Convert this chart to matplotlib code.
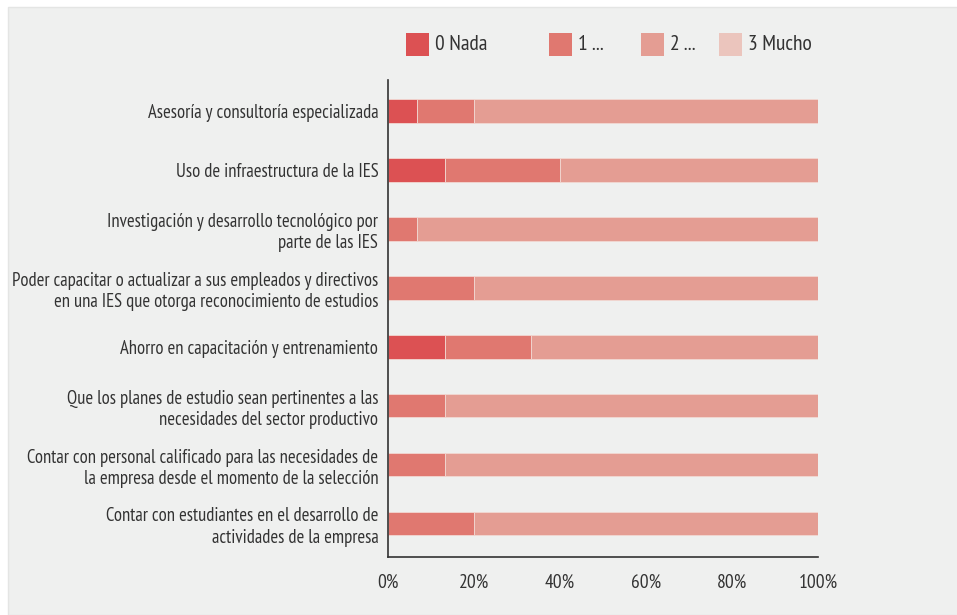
import matplotlib.pyplot as plt
from matplotlib.patches import Rectangle
from matplotlib import font_manager
import numpy as np

names = {f.name for f in font_manager.fontManager.ttflist}
fam = next((n for n in ['PT Sans Narrow', 'Roboto Condensed', 'Fira Sans Condensed',
                        'IBM Plex Sans Condensed', 'Open Sans Condensed'] if n in names),
           'DejaVu Sans')
plt.rcParams['font.family'] = [fam, 'DejaVu Sans']

categories = [
    'Asesoría y consultoría especializada',
    'Uso de infraestructura de la IES',
    'Investigación y desarrollo tecnológico por\nparte de las IES',
    'Poder capacitar o actualizar a sus empleados y directivos\nen una IES que otorga reconocimiento de estudios',
    'Ahorro en capacitación y entrenamiento',
    'Que los planes de estudio sean pertinentes a las\nnecesidades del sector productivo',
    'Contar con personal calificado para las necesidades de\nla empresa desde el momento de la selección',
    'Contar con estudiantes en el desarrollo de\nactividades de la empresa',
]
series = ['0 Nada', '1 ...', '2 ...', '3 Mucho']
nada = [6.7, 13.3, 0, 0, 13.3, 0, 0, 0]
uno = [13.3, 26.7, 6.7, 20.0, 20.0, 13.3, 13.3, 20.0]
dos = [80.0, 60.0, 93.3, 80.0, 66.7, 86.7, 86.7, 80.0]
mucho = [0, 0, 0, 0, 0, 0, 0, 0]
colors = ['#dc5153', '#e07870', '#e49d93', '#ebc5bd']
ticks = [0, 20, 40, 60, 80, 100]

bg = '#eff0ef'
txt = '#333333'

fig = plt.figure(figsize=(9.57, 6.15), dpi=100)
fig.patches.append(Rectangle((8/957, 0), 1, 1 - 7/615, transform=fig.transFigure,
                             facecolor=bg, edgecolor='#e4e5e4', lw=1, zorder=-1))
ax = fig.add_axes([388/957, 1 - 557/615, 430/957, 477/615])
ax.set_facecolor(bg)

y = np.arange(len(categories))
left = np.zeros(len(categories))
for vals, c in zip([nada, uno, dos, mucho], colors):
    vals = np.array(vals)
    ax.barh(y, vals, left=left, height=0.4, color=c, edgecolor='#f2d8d2', linewidth=0.6)
    left += vals

ax.set_ylim(7.57, -0.53)
ax.set_xlim(0, 100)
ax.set_yticks(y)
ax.set_yticklabels(categories, fontsize=13.4, color=txt, linespacing=1.22)
ax.set_xticks(ticks)
ax.set_xticklabels([f'{t}%' for t in ticks], fontsize=14, color=txt)
ax.tick_params(axis='y', length=0, pad=7)
ax.tick_params(axis='x', length=0, pad=12)
for s in ['top', 'right']:
    ax.spines[s].set_visible(False)
for s in ['left', 'bottom']:
    ax.spines[s].set_color('#333333')
    ax.spines[s].set_linewidth(1.2)

# legend drawn by hand to keep the uneven spacing
leg_x = [406, 549, 641, 719]
for lx, name, c in zip(leg_x, series, colors):
    fig.patches.append(Rectangle((lx/957, 1 - 56/615), 23/957, 23/615,
                                 transform=fig.transFigure, facecolor=c, edgecolor='none'))
    fig.text((lx + 29)/957, 1 - 45/615, name, fontsize=15.5, color=txt, va='center')

fig.savefig('out.png', dpi=100, facecolor='white')
